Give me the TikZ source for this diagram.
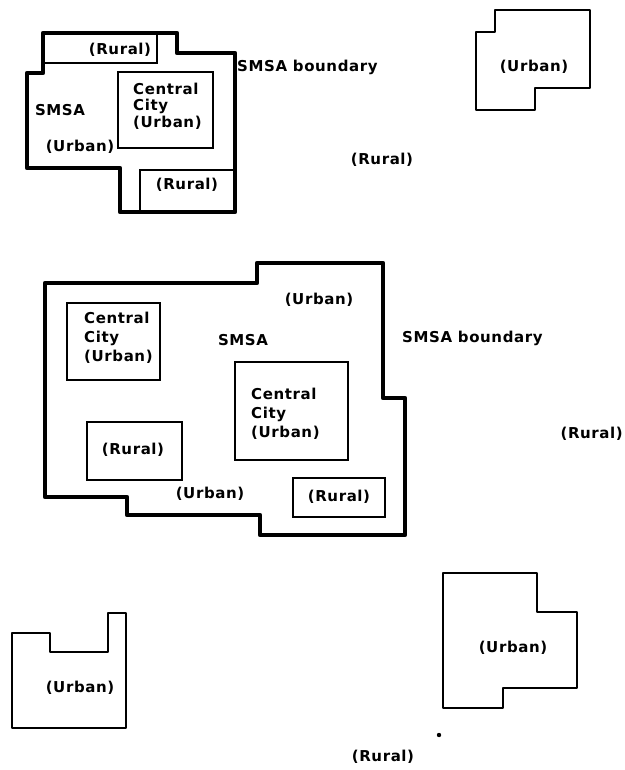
\documentclass[tikz,border=0pt]{standalone}
\usepackage{fontspec}
\setmainfont{DejaVu Sans}[LetterSpace=4]
\begin{document}
\begin{tikzpicture}[x=1pt,y=-1pt,
    lbl/.style={font=\fontsize{15}{19}\selectfont\bfseries,inner sep=0pt},
    blk/.style={lbl,align=left},
    bound/.style={line width=4.4pt,line join=round},
    area/.style={line width=2.8pt,line join=round},
    box/.style={line width=2.2pt}]
    \useasboundingbox (0,0) rectangle (624,770);
    % upper SMSA
    \draw[bound] (27,73) -- (43,73) -- (43,33) -- (177,33) -- (177,53) -- (235,53)
      -- (235,212) -- (120,212) -- (120,168) -- (27,168) -- cycle;
    \draw[box] (43,63) -- (157,63) -- (157,33);
    \draw[box] (118,72) rectangle (213,148);
    \draw[box] (140,212) -- (140,170) -- (235,170);
    \node[lbl] (R0_0) at (120,50) {(Rural)};
    \node[blk,font=\fontsize{15}{16.5}\selectfont\bfseries,anchor=west] (C0_0) at (133,106) {Central\\City\\(Urban)};
    \node[lbl] (S0_0) at (60,110) {SMSA};
    \node[lbl] (U0_0) at (80,147) {(Urban)};
    \node[lbl] (R0_1) at (187,185) {(Rural)};
    \node[lbl,anchor=west] (B0_0) at (237,67) {SMSA boundary};
    \node[lbl] (R0_2) at (382,160) {(Rural)};
    % upper right urban area
    \draw[area] (476,32) -- (495,32) -- (495,10) -- (590,10) -- (590,88) -- (535,88)
      -- (535,110) -- (476,110) -- cycle;
    \node[lbl] (U0_1) at (534,67) {(Urban)};
    % middle SMSA
    \draw[bound] (45,283) -- (257,283) -- (257,263) -- (383,263) -- (383,398) -- (405,398)
      -- (405,535) -- (260,535) -- (260,515) -- (127,515) -- (127,497) -- (45,497) -- cycle;
    \draw[box] (67,303) rectangle (160,380);
    \draw[box] (87,422) rectangle (182,480);
    \draw[box] (235,362) rectangle (348,460);
    \draw[box] (293,478) rectangle (385,517);
    \node[blk,anchor=west] (C1_0) at (84,338) {Central\\City\\(Urban)};
    \node[lbl] (R1_0) at (133,450) {(Rural)};
    \node[blk,anchor=west] (C1_1) at (251,414) {Central\\City\\(Urban)};
    \node[lbl] (R1_1) at (339,497) {(Rural)};
    \node[lbl] (U1_0) at (319,300) {(Urban)};
    \node[lbl] (S1_0) at (243,340) {SMSA};
    \node[lbl] (U1_1) at (210,494) {(Urban)};
    \node[lbl,anchor=west] (B1_0) at (402,338) {SMSA boundary};
    \node[lbl,anchor=east] (R1_2) at (623,434) {(Rural)};
    % lower urban areas
    \draw[area] (443,573) -- (537,573) -- (537,612) -- (577,612) -- (577,688) -- (503,688)
      -- (503,708) -- (443,708) -- cycle;
    \node[lbl] (U2_0) at (513,648) {(Urban)};
    \draw[area] (12,633) -- (50,633) -- (50,652) -- (108,652) -- (108,613) -- (126,613)
      -- (126,728) -- (12,728) -- cycle;
    \node[lbl] (U2_1) at (80,688) {(Urban)};
    \fill (439,735) circle (2.2pt);
    \node[lbl] (R2_0) at (383,757) {(Rural)};
\end{tikzpicture}
\end{document}
